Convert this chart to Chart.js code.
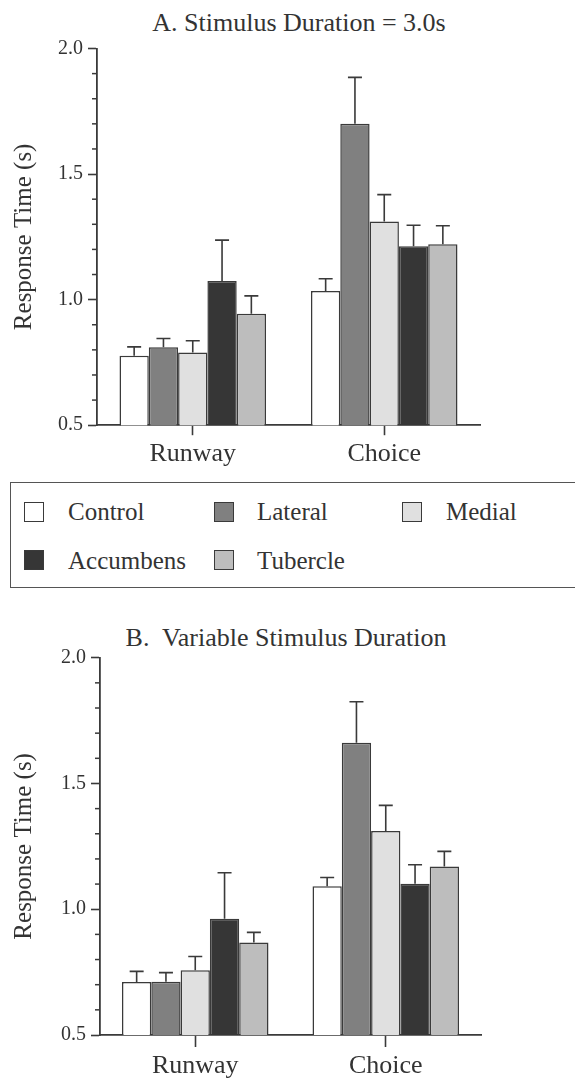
<!DOCTYPE html>
<html>
<head>
<meta charset="utf-8">
<script src="https://cdn.jsdelivr.net/npm/chart.js@4.4.1/dist/chart.umd.min.js"></script>
<style>
html,body{margin:0;padding:0;background:#fff;}
body{width:575px;height:1081px;position:relative;overflow:hidden;font-family:'Liberation Serif','Times New Roman',serif;color:#333;}
.title{position:absolute;width:440px;text-align:center;font-size:26px;line-height:26px;white-space:pre;color:#333;}
.box{position:absolute;left:0;width:575px;}
#legendBox{position:absolute;left:10px;top:482px;width:620px;height:106px;border:1.5px solid #555;box-sizing:border-box;}
.sw{position:absolute;width:20px;height:20px;box-sizing:border-box;border:1.5px solid #3a3a3a;}
.lt{position:absolute;font-size:25px;line-height:25px;white-space:pre;color:#333;}
</style>
</head>
<body>
<div class="title" id="titleA" style="left:79px;top:10px;"></div>
<div class="box" style="top:0;height:480px;"><canvas id="chartA"></canvas></div>
<div id="legendBox"></div>
<div id="legendItems"></div>
<div class="title" id="titleB" style="left:66px;top:625px;"></div>
<div class="box" style="top:600px;height:481px;"><canvas id="chartB"></canvas></div>
<script>
// ---------- data ----------
const categories = ['Runway', 'Choice'];
const groups = ['Control', 'Lateral', 'Medial', 'Accumbens', 'Tubercle'];
const titles = ['A. Stimulus Duration = 3.0s', 'B.  Variable Stimulus Duration'];
const yAxisTitle = 'Response Time (s)';

// Panel A (means and SEM per group, order as groups)
const aRunwayMean = [0.777, 0.810, 0.789, 1.074, 0.944];
const aRunwaySem  = [0.035, 0.035, 0.047, 0.163, 0.071];
const aChoiceMean = [1.034, 1.700, 1.311, 1.213, 1.221];
const aChoiceSem  = [0.049, 0.185, 0.107, 0.083, 0.073];

// Panel B
const bRunwayMean = [0.711, 0.712, 0.757, 0.962, 0.868];
const bRunwaySem  = [0.042, 0.036, 0.055, 0.183, 0.040];
const bChoiceMean = [1.091, 1.662, 1.311, 1.101, 1.170];
const bChoiceSem  = [0.035, 0.163, 0.102, 0.076, 0.060];

// y axis ticks
const yMin = 0.5, yMax = 2.0, yMajorStep = 0.5, yMinorStep = 0.1;

// ---------- styles ----------
const fills = ['#ffffff', '#808080', '#e0e0e0', '#363636', '#bdbdbd'];
const ink = '#3a3a3a';
const textColor = '#333';
const FONT = "'Liberation Serif', 'Times New Roman', serif";

Chart.defaults.font.family = FONT;
Chart.defaults.color = textColor;

document.getElementById('titleA').textContent = titles[0];
document.getElementById('titleB').textContent = titles[1];

// legend (HTML, built from groups/fills)
const legSwX = [24, 214, 402, 24, 214];
const legSwY = [501.5, 501.5, 501.5, 550, 550];
const legTxX = [68, 257, 446, 68, 257];
const legTxY = [499, 499, 499, 548, 548];
const li = document.getElementById('legendItems');
groups.forEach((g, i) => {
  const s = document.createElement('div');
  s.className = 'sw';
  s.style.left = legSwX[i] + 'px';
  s.style.top = legSwY[i] + 'px';
  s.style.background = fills[i];
  li.appendChild(s);
  const t = document.createElement('div');
  t.className = 'lt';
  t.style.left = legTxX[i] + 'px';
  t.style.top = legTxY[i] + 'px';
  t.textContent = g;
  li.appendChild(t);
});

function isMajor(v) {
  const r = v / yMajorStep;
  return Math.abs(r - Math.round(r)) < 1e-6;
}

// plugin: error bars (upward only) and minor ticks
const extras = {
  id: 'extras',
  afterDatasetsDraw(chart) {
    const ctx = chart.ctx;
    const ys = chart.scales.y;
    ctx.save();
    ctx.strokeStyle = ink;
    ctx.lineWidth = 1.6;
    chart.data.datasets.forEach((ds, di) => {
      const meta = chart.getDatasetMeta(di);
      meta.data.forEach((bar, j) => {
        const top = ys.getPixelForValue(ds.data[j] + ds.sem[j]);
        const x = bar.x;
        ctx.beginPath();
        ctx.moveTo(x, bar.y);
        ctx.lineTo(x, top);
        ctx.moveTo(x - 7, top);
        ctx.lineTo(x + 7, top);
        ctx.stroke();
      });
    });
    ctx.restore();
  },
  afterDraw(chart) {
    const ctx = chart.ctx;
    const ys = chart.scales.y;
    const x0 = chart.chartArea.left;
    ctx.save();
    ctx.strokeStyle = ink;
    ctx.lineWidth = 1.5;
    ys.ticks.forEach(t => {
      if (isMajor(t.value)) return;
      const y = ys.getPixelForValue(t.value);
      ctx.beginPath();
      ctx.moveTo(x0 - 5, y);
      ctx.lineTo(x0, y);
      ctx.stroke();
    });
    ctx.restore();
  }
};

function makeChart(id, runMean, choMean, runSem, choSem, L) {
  const datasets = groups.map((g, i) => ({
    label: g,
    data: [runMean[i], choMean[i]],
    sem: [runSem[i], choSem[i]],
    backgroundColor: fills[i],
    borderColor: ink,
    borderWidth: 1.5,
    barPercentage: 1.0,
    categoryPercentage: L.catPct
  }));
  return new Chart(document.getElementById(id), {
    type: 'bar',
    data: { labels: categories, datasets },
    plugins: [extras],
    options: {
      responsive: true,
      maintainAspectRatio: false,
      animation: false,
      events: [],
      layout: { padding: L.padding },
      plugins: { legend: { display: false }, tooltip: { enabled: false }, title: { display: false } },
      scales: {
        x: {
          type: 'category',
          offset: true,
          grid: { display: true, drawOnChartArea: false, offset: false, drawTicks: true,
                  tickLength: L.xTick, tickColor: ink, tickWidth: 1.6 },
          border: { display: true, color: ink, width: 1.8 },
          ticks: { color: textColor, font: { size: 26, family: FONT }, padding: L.xPad, maxRotation: 0 },
          afterFit: s => { s.height = L.xHeight; }
        },
        y: {
          type: 'linear',
          min: yMin,
          max: yMax,
          grid: { display: true, drawOnChartArea: false, drawTicks: true, tickLength: 9,
                  tickWidth: 1.6,
                  tickColor: c => (c.tick && isMajor(c.tick.value)) ? ink : 'rgba(0,0,0,0)' },
          border: { display: true, color: ink, width: 1.8 },
          ticks: {
            stepSize: yMinorStep,
            autoSkip: false,
            maxTicksLimit: 100,
            padding: 5,
            color: textColor,
            font: { size: 20, family: FONT },
            callback: v => isMajor(v) ? v.toFixed(1) : ''
          },
          title: { display: true, text: yAxisTitle, color: textColor,
                   font: { size: 25, family: FONT, lineHeight: 1.2 }, padding: { top: 9, bottom: 0 } },
          afterFit: s => { s.width = L.yWidth; }
        }
      }
    }
  });
}

makeChart('chartA', aRunwayMean, aChoiceMean, aRunwaySem, aChoiceSem, {
  padding: { top: 48.5, right: 95, bottom: 0, left: 0 },
  yWidth: 97, xHeight: 54.8, xTick: 10, xPad: 3, catPct: 0.765
});
makeChart('chartB', bRunwayMean, bChoiceMean, bRunwaySem, bChoiceSem, {
  padding: { top: 57.7, right: 94, bottom: 0, left: 0 },
  yWidth: 100, xHeight: 46, xTick: 12, xPad: 4, catPct: 0.769
});
</script>
</body>
</html>
